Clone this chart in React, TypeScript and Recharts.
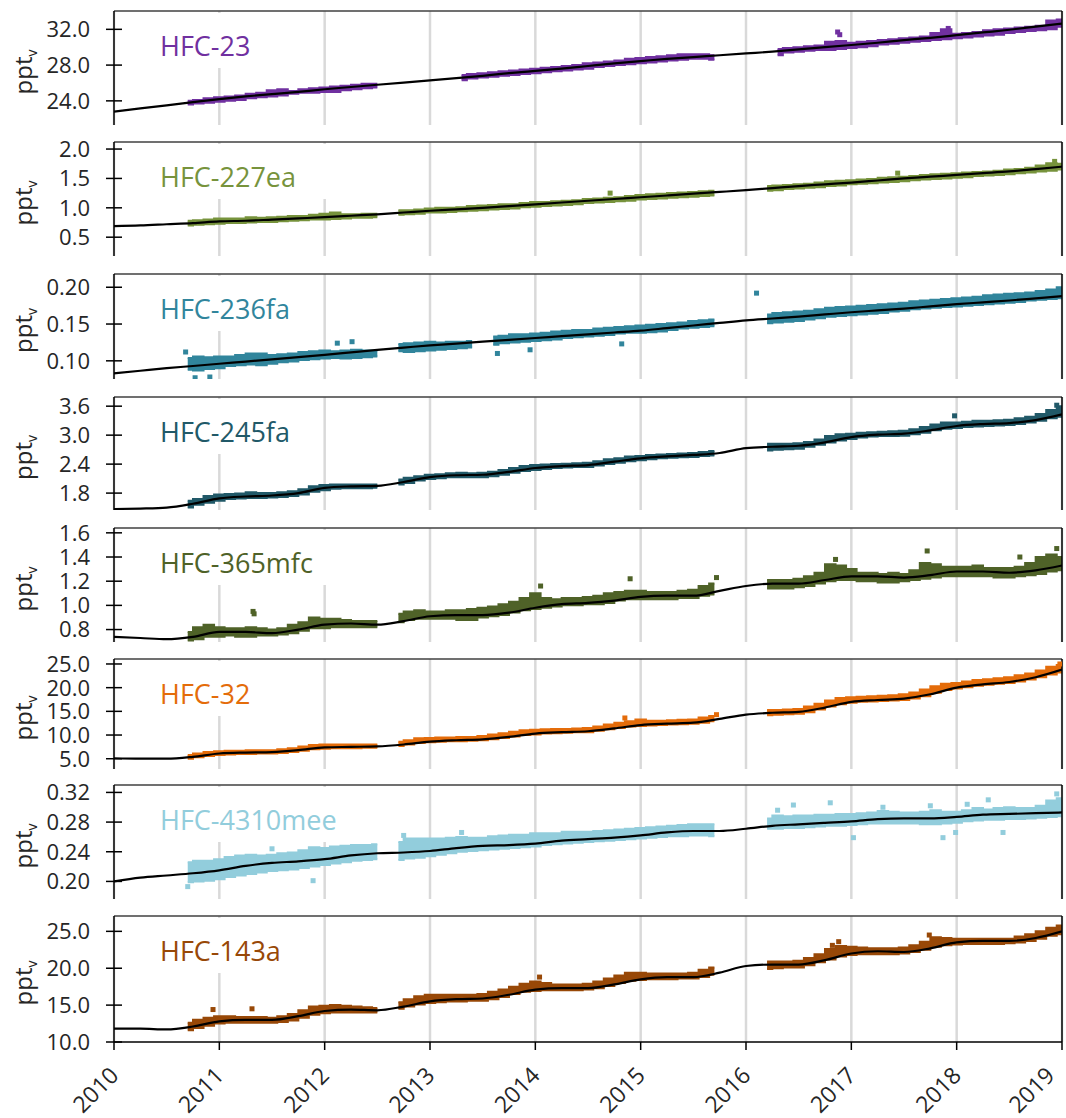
import React from "react";
import {
  Area,
  CartesianGrid,
  ComposedChart,
  Line,
  ReferenceLine,
  Scatter,
  XAxis,
  YAxis,
} from "recharts";

const FONT = '"Open Sans", sans-serif';

const yearTicks = [2010, 2011, 2012, 2013, 2014, 2015, 2016, 2017, 2018, 2019];

// observation bins, 0.1 yr wide
const binYears = [
  2010.7, 2010.8, 2010.9,
  2011.0, 2011.1, 2011.2, 2011.3, 2011.4, 2011.5, 2011.6, 2011.7, 2011.8, 2011.9,
  2012.0, 2012.1, 2012.2, 2012.3, 2012.4, 2012.5, 2012.6, 2012.7, 2012.8, 2012.9,
  2013.0, 2013.1, 2013.2, 2013.3, 2013.4, 2013.5, 2013.6, 2013.7, 2013.8, 2013.9,
  2014.0, 2014.1, 2014.2, 2014.3, 2014.4, 2014.5, 2014.6, 2014.7, 2014.8, 2014.9,
  2015.0, 2015.1, 2015.2, 2015.3, 2015.4, 2015.5, 2015.6, 2015.7, 2015.8, 2015.9,
  2016.0, 2016.1, 2016.2, 2016.3, 2016.4, 2016.5, 2016.6, 2016.7, 2016.8, 2016.9,
  2017.0, 2017.1, 2017.2, 2017.3, 2017.4, 2017.5, 2017.6, 2017.7, 2017.8, 2017.9,
  2018.0, 2018.1, 2018.2, 2018.3, 2018.4, 2018.5, 2018.6, 2018.7, 2018.8, 2018.9,
  2019.0,
];

// smoothed fit, every quarter year
const fitYears = [
  2010, 2010.25, 2010.5, 2010.75, 2011, 2011.25, 2011.5, 2011.75,
  2012, 2012.25, 2012.5, 2012.75, 2013, 2013.25, 2013.5, 2013.75,
  2014, 2014.25, 2014.5, 2014.75, 2015, 2015.25, 2015.5, 2015.75,
  2016, 2016.25, 2016.5, 2016.75, 2017, 2017.25, 2017.5, 2017.75,
  2018, 2018.25, 2018.5, 2018.75, 2019,
];

// ---- HFC-23
const hfc23Band = [
  [23.6, 24.0], [23.7, 24.1], [23.8, 24.3],
  [23.9, 24.4], [24.0, 24.5], [24.1, 24.6], [24.3, 24.8], [24.4, 24.9], [24.5, 25.2], [24.6, 25.3], [24.8, 25.1], [24.9, 25.3], [24.9, 25.4],
  [25.0, 25.5], [25.0, 25.6], [25.2, 25.7], [25.3, 25.8], [25.4, 25.9], [25.5, 25.9], null, null, null, null,
  null, null, null, [26.3, 26.9], [26.5, 27.0], [26.6, 27.1], [26.7, 27.2], [26.8, 27.3], [26.9, 27.4], [27.0, 27.5],
  [27.1, 27.6], [27.2, 27.7], [27.3, 27.8], [27.4, 27.9], [27.5, 28.0], [27.6, 28.2], [27.8, 28.3], [27.9, 28.4], [28.0, 28.5], [28.1, 28.7],
  [28.2, 28.8], [28.3, 28.9], [28.4, 29.0], [28.5, 29.1], [28.6, 29.2], [28.7, 29.2], [28.7, 29.2], [28.6, 29.1], null, null,
  null, null, null, [29.1, 29.8], [29.4, 29.9], [29.5, 30.0], [29.6, 30.1], [29.7, 30.2], [29.7, 30.6], [29.8, 30.7],
  [29.9, 30.5], [30.0, 30.6], [30.1, 30.7], [30.3, 30.8], [30.4, 30.9], [30.5, 31.0], [30.6, 31.1], [30.7, 31.2], [30.8, 31.6], [30.9, 32.0],
  [31.0, 31.5], [31.1, 31.6], [31.2, 31.7], [31.3, 31.9], [31.4, 32.0], [31.6, 32.1], [31.7, 32.2], [31.8, 32.3], [31.9, 32.4], [32.0, 33.0],
  [32.3, 33.1],
];
const hfc23Fit = [
  22.8, 23.15, 23.5, 23.85, 24.2, 24.5, 24.75, 25.0,
  25.3, 25.55, 25.8, 26.05, 26.3, 26.55, 26.8, 27.1,
  27.35, 27.6, 27.9, 28.2, 28.45, 28.7, 28.9, 29.1,
  29.3, 29.5, 29.75, 30.0, 30.25, 30.5, 30.8, 31.05,
  31.35, 31.65, 31.95, 32.3, 32.65,
];
const hfc23Out = [[2016.87, 31.7], [2016.89, 31.4], [2017.92, 32.1]];
const hfc23Ticks = [24, 28, 32];

// ---- HFC-227ea
const hfc227Band = [
  [0.70, 0.78], [0.71, 0.79], [0.72, 0.80],
  [0.73, 0.82], [0.74, 0.82], [0.74, 0.82], [0.75, 0.84], [0.76, 0.83], [0.76, 0.84], [0.77, 0.85], [0.78, 0.86], [0.79, 0.86], [0.80, 0.88],
  [0.80, 0.90], [0.81, 0.92], [0.82, 0.89], [0.83, 0.89], [0.83, 0.90], [0.84, 0.90], null, [0.88, 0.96], [0.89, 0.96], [0.90, 0.97],
  [0.92, 0.99], [0.92, 1.00], [0.93, 1.00], [0.94, 1.01], [0.95, 1.03], [0.96, 1.04], [0.97, 1.05], [0.98, 1.06], [0.99, 1.06], [1.01, 1.08],
  [1.02, 1.10], [1.03, 1.10], [1.04, 1.11], [1.05, 1.12], [1.06, 1.13], [1.08, 1.15], [1.09, 1.16], [1.10, 1.17], [1.11, 1.18], [1.12, 1.20],
  [1.14, 1.22], [1.15, 1.23], [1.16, 1.24], [1.17, 1.25], [1.18, 1.26], [1.19, 1.27], [1.20, 1.28], [1.21, 1.29], null, null,
  null, null, [1.29, 1.37], [1.30, 1.38], [1.32, 1.39], [1.33, 1.40], [1.34, 1.41], [1.35, 1.43], [1.37, 1.45], [1.38, 1.46],
  [1.40, 1.47], [1.41, 1.48], [1.42, 1.49], [1.43, 1.51], [1.44, 1.52], [1.45, 1.53], [1.47, 1.54], [1.48, 1.56], [1.49, 1.57], [1.50, 1.58],
  [1.51, 1.59], [1.52, 1.60], [1.54, 1.61], [1.55, 1.62], [1.56, 1.63], [1.57, 1.65], [1.59, 1.66], [1.60, 1.68], [1.62, 1.72], [1.63, 1.76],
  [1.65, 1.75],
];
const hfc227Fit = [
  0.69, 0.70, 0.72, 0.74, 0.77, 0.78, 0.80, 0.82,
  0.84, 0.865, 0.89, 0.92, 0.95, 0.975, 1.00, 1.03,
  1.06, 1.09, 1.12, 1.15, 1.18, 1.21, 1.24, 1.27,
  1.30, 1.335, 1.37, 1.40, 1.43, 1.465, 1.50, 1.53,
  1.56, 1.59, 1.62, 1.66, 1.70,
];
const hfc227Out = [[2014.71, 1.25], [2017.44, 1.59], [2018.93, 1.79]];
const hfc227Ticks = [0.5, 1.0, 1.5, 2.0];

// ---- HFC-236fa
const hfc236Band = [
  [0.088, 0.104], [0.087, 0.106], [0.089, 0.105],
  [0.090, 0.106], [0.093, 0.106], [0.094, 0.108], [0.095, 0.110], [0.094, 0.110], [0.096, 0.108], [0.098, 0.109], [0.099, 0.110], [0.101, 0.112], [0.102, 0.113],
  [0.103, 0.114], [0.104, 0.113], [0.103, 0.114], [0.104, 0.115], [0.105, 0.114], [0.106, 0.114], null, [0.113, 0.123], [0.112, 0.124], [0.113, 0.125],
  [0.114, 0.126], [0.115, 0.125], [0.116, 0.126], [0.117, 0.126], [0.118, 0.127], null, [0.122, 0.133], [0.124, 0.134], [0.125, 0.136], [0.126, 0.136],
  [0.127, 0.137], [0.128, 0.138], [0.129, 0.140], [0.131, 0.141], [0.132, 0.142], [0.133, 0.142], [0.134, 0.144], [0.135, 0.145], [0.137, 0.146], [0.138, 0.147],
  [0.138, 0.148], [0.139, 0.149], [0.140, 0.150], [0.142, 0.151], [0.144, 0.152], [0.145, 0.154], [0.146, 0.155], [0.147, 0.156], null, null,
  null, null, [0.151, 0.163], [0.152, 0.165], [0.153, 0.166], [0.154, 0.167], [0.156, 0.168], [0.158, 0.170], [0.160, 0.172], [0.161, 0.173],
  [0.162, 0.174], [0.163, 0.175], [0.164, 0.176], [0.165, 0.177], [0.167, 0.178], [0.168, 0.179], [0.170, 0.181], [0.171, 0.182], [0.172, 0.183], [0.173, 0.184],
  [0.174, 0.185], [0.175, 0.186], [0.176, 0.187], [0.177, 0.189], [0.178, 0.190], [0.179, 0.191], [0.180, 0.192], [0.182, 0.193], [0.183, 0.195], [0.184, 0.197],
  [0.185, 0.200],
];
const hfc236Fit = [
  0.083, 0.0865, 0.090, 0.093, 0.096, 0.099, 0.102, 0.105,
  0.108, 0.1115, 0.115, 0.118, 0.121, 0.1235, 0.126, 0.1285,
  0.131, 0.1335, 0.136, 0.1385, 0.141, 0.1445, 0.148, 0.1515,
  0.155, 0.1575, 0.160, 0.163, 0.166, 0.1685, 0.171, 0.174,
  0.177, 0.1795, 0.182, 0.185, 0.188,
];
const hfc236Out = [
  [2010.68, 0.112], [2010.77, 0.077], [2010.91, 0.078], [2012.12, 0.124], [2012.26, 0.126],
  [2013.64, 0.110], [2013.95, 0.115], [2014.82, 0.123], [2016.1, 0.192],
];
const hfc236Ticks = [0.10, 0.15, 0.20];

// ---- HFC-245fa
const hfc245Band = [
  [1.50, 1.64], [1.56, 1.68], [1.60, 1.74],
  [1.64, 1.77], [1.68, 1.78], [1.69, 1.79], [1.70, 1.82], [1.70, 1.80], [1.71, 1.80], [1.72, 1.82], [1.74, 1.84], [1.77, 1.88], [1.83, 1.94],
  [1.86, 1.97], [1.89, 1.98], [1.90, 1.98], [1.90, 1.98], [1.90, 1.98], [1.91, 1.98], null, [1.98, 2.08], [2.01, 2.12], [2.06, 2.15],
  [2.09, 2.18], [2.11, 2.19], [2.13, 2.21], [2.13, 2.22], [2.13, 2.21], [2.13, 2.22], [2.15, 2.24], [2.18, 2.28], [2.22, 2.32], [2.26, 2.36],
  [2.28, 2.38], [2.30, 2.39], [2.32, 2.40], [2.33, 2.41], [2.34, 2.42], [2.34, 2.43], [2.37, 2.46], [2.40, 2.50], [2.43, 2.52], [2.46, 2.56],
  [2.48, 2.57], [2.50, 2.59], [2.52, 2.60], [2.53, 2.61], [2.54, 2.62], [2.55, 2.63], [2.57, 2.65], [2.58, 2.67], null, null,
  null, null, [2.68, 2.82], [2.70, 2.82], [2.71, 2.82], [2.72, 2.83], [2.76, 2.86], [2.80, 2.91], [2.85, 2.98], [2.89, 3.02],
  [2.92, 3.03], [2.95, 3.05], [2.97, 3.06], [2.98, 3.07], [2.98, 3.08], [2.99, 3.09], [3.02, 3.12], [3.05, 3.17], [3.10, 3.22], [3.13, 3.26],
  [3.15, 3.26], [3.17, 3.28], [3.18, 3.30], [3.19, 3.30], [3.20, 3.31], [3.21, 3.32], [3.23, 3.35], [3.26, 3.38], [3.30, 3.44], [3.35, 3.52],
  [3.38, 3.60],
];
const hfc245Fit = [
  1.47, 1.48, 1.50, 1.58, 1.69, 1.73, 1.75, 1.80,
  1.91, 1.94, 1.95, 2.03, 2.13, 2.17, 2.18, 2.24,
  2.32, 2.36, 2.38, 2.45, 2.52, 2.56, 2.59, 2.63,
  2.73, 2.76, 2.78, 2.85, 2.96, 3.01, 3.03, 3.10,
  3.19, 3.23, 3.25, 3.31, 3.43,
];
const hfc245Out = [[2017.98, 3.40], [2018.95, 3.62]];
const hfc245Ticks = [1.8, 2.4, 3.0, 3.6];

// ---- HFC-365mfc
const hfc365Band = [
  [0.71, 0.78], [0.72, 0.82], [0.74, 0.84],
  [0.74, 0.82], [0.75, 0.81], [0.74, 0.81], [0.74, 0.82], [0.75, 0.81], [0.75, 0.80], [0.76, 0.81], [0.77, 0.84], [0.79, 0.86], [0.81, 0.90],
  [0.81, 0.89], [0.82, 0.89], [0.82, 0.88], [0.82, 0.87], [0.82, 0.87], [0.82, 0.87], null, [0.86, 0.93], [0.88, 0.95], [0.89, 0.96],
  [0.89, 0.95], [0.89, 0.95], [0.89, 0.96], [0.88, 0.96], [0.88, 0.97], [0.90, 0.98], [0.91, 0.99], [0.92, 1.01], [0.94, 1.03], [0.96, 1.06],
  [0.97, 1.10], [0.98, 1.06], [0.99, 1.05], [1.00, 1.06], [1.00, 1.06], [1.01, 1.07], [1.01, 1.08], [1.02, 1.10], [1.04, 1.11], [1.05, 1.12],
  [1.05, 1.12], [1.05, 1.11], [1.05, 1.11], [1.05, 1.11], [1.06, 1.12], [1.06, 1.13], [1.08, 1.16], [1.09, 1.18], null, null,
  null, null, [1.14, 1.21], [1.14, 1.21], [1.14, 1.21], [1.15, 1.22], [1.16, 1.24], [1.18, 1.27], [1.20, 1.34], [1.21, 1.33],
  [1.21, 1.30], [1.20, 1.27], [1.20, 1.27], [1.19, 1.26], [1.19, 1.27], [1.20, 1.26], [1.21, 1.29], [1.22, 1.35], [1.23, 1.34], [1.24, 1.32],
  [1.24, 1.32], [1.24, 1.32], [1.24, 1.33], [1.24, 1.31], [1.23, 1.31], [1.23, 1.31], [1.24, 1.32], [1.25, 1.35], [1.26, 1.40], [1.28, 1.42],
  [1.29, 1.40],
];
const hfc365Fit = [
  0.74, 0.73, 0.72, 0.74, 0.78, 0.78, 0.77, 0.80,
  0.84, 0.85, 0.84, 0.87, 0.91, 0.92, 0.92, 0.94,
  0.98, 1.01, 1.02, 1.04, 1.07, 1.08, 1.08, 1.12,
  1.16, 1.18, 1.18, 1.21, 1.24, 1.24, 1.23, 1.25,
  1.28, 1.28, 1.27, 1.29, 1.33,
];
const hfc365Out = [
  [2011.32, 0.95], [2011.33, 0.93], [2014.05, 1.16], [2014.9, 1.22], [2015.72, 1.23],
  [2016.85, 1.38], [2017.72, 1.45], [2018.6, 1.40], [2018.95, 1.47],
];
const hfc365Ticks = [0.8, 1.0, 1.2, 1.4, 1.6];

// ---- HFC-32
const hfc32Band = [
  [5.0, 5.8], [5.3, 6.1], [5.6, 6.4],
  [5.8, 6.6], [5.9, 6.7], [6.0, 6.7], [6.0, 6.8], [6.1, 6.8], [6.1, 6.8], [6.2, 7.0], [6.4, 7.2], [6.7, 7.6], [7.0, 7.9],
  [7.1, 8.0], [7.2, 8.0], [7.2, 8.0], [7.2, 8.0], [7.3, 8.0], [7.3, 8.0], null, [7.7, 8.6], [8.0, 8.9], [8.3, 9.3],
  [8.5, 9.4], [8.6, 9.5], [8.7, 9.5], [8.7, 9.6], [8.8, 9.6], [8.9, 9.8], [9.1, 10.1], [9.4, 10.4], [9.7, 10.7], [10.0, 11.0],
  [10.1, 11.1], [10.3, 11.2], [10.4, 11.3], [10.5, 11.3], [10.6, 11.4], [10.6, 11.5], [10.9, 11.8], [11.2, 12.2], [11.5, 12.6], [11.8, 12.9],
  [11.9, 13.3], [12.0, 13.0], [12.1, 13.0], [12.2, 13.1], [12.3, 13.2], [12.4, 13.3], [12.6, 13.7], [12.9, 14.0], null, null,
  null, null, [14.2, 15.3], [14.3, 15.3], [14.4, 15.4], [14.5, 15.5], [14.8, 16.0], [15.4, 16.6], [16.0, 17.3], [16.5, 17.8],
  [16.8, 18.0], [17.0, 18.1], [17.1, 18.2], [17.2, 18.3], [17.3, 18.4], [17.4, 18.6], [17.7, 19.0], [18.2, 19.6], [18.9, 20.3], [19.5, 20.8],
  [19.8, 21.0], [20.1, 21.3], [20.4, 21.6], [20.6, 21.8], [20.8, 22.0], [21.0, 22.2], [21.3, 22.6], [21.7, 23.0], [22.2, 23.6], [22.8, 24.4],
  [23.2, 24.8],
];
const hfc32Fit = [
  5.1, 5.0, 5.0, 5.4, 6.1, 6.3, 6.4, 6.8,
  7.4, 7.5, 7.6, 8.0, 8.6, 8.9, 9.1, 9.6,
  10.3, 10.6, 10.8, 11.4, 12.1, 12.4, 12.6, 13.4,
  14.3, 14.7, 14.9, 15.8, 17.0, 17.4, 17.7, 18.6,
  20.0, 20.7, 21.2, 22.2, 23.8,
];
const hfc32Out = [[2014.85, 13.6], [2015.72, 14.3], [2018.98, 25.0]];
const hfc32Ticks = [5, 10, 15, 20, 25];

// ---- HFC-4310mee
const hfc4310Band = [
  [0.199, 0.226], [0.200, 0.228], [0.201, 0.228],
  [0.203, 0.230], [0.206, 0.233], [0.208, 0.235], [0.210, 0.236], [0.212, 0.235], [0.214, 0.236], [0.215, 0.238], [0.216, 0.239], [0.218, 0.242], [0.220, 0.246],
  [0.222, 0.245], [0.224, 0.247], [0.226, 0.248], [0.228, 0.249], [0.229, 0.249], [0.230, 0.250], null, [0.229, 0.253], [0.231, 0.258], [0.232, 0.258],
  [0.234, 0.258], [0.236, 0.258], [0.238, 0.259], [0.240, 0.260], [0.241, 0.259], [0.242, 0.259], [0.243, 0.261], [0.244, 0.262], [0.245, 0.263], [0.246, 0.263],
  [0.247, 0.265], [0.249, 0.265], [0.250, 0.265], [0.251, 0.267], [0.252, 0.267], [0.253, 0.267], [0.254, 0.268], [0.255, 0.269], [0.256, 0.270], [0.257, 0.271],
  [0.258, 0.272], [0.259, 0.273], [0.260, 0.274], [0.261, 0.275], [0.261, 0.276], [0.262, 0.277], [0.262, 0.277], [0.261, 0.277], null, null,
  null, null, [0.271, 0.285], [0.271, 0.289], [0.272, 0.288], [0.272, 0.289], [0.273, 0.289], [0.274, 0.290], [0.275, 0.290], [0.275, 0.291],
  [0.276, 0.291], [0.277, 0.292], [0.278, 0.293], [0.278, 0.295], [0.278, 0.294], [0.278, 0.293], [0.278, 0.293], [0.277, 0.294], [0.277, 0.296], [0.278, 0.294],
  [0.279, 0.294], [0.281, 0.296], [0.282, 0.299], [0.283, 0.297], [0.283, 0.299], [0.284, 0.300], [0.284, 0.299], [0.285, 0.299], [0.286, 0.302], [0.287, 0.309],
  [0.288, 0.312],
];
const hfc4310Fit = [
  0.200, 0.205, 0.208, 0.211, 0.215, 0.221, 0.225, 0.227,
  0.230, 0.235, 0.238, 0.239, 0.241, 0.245, 0.248, 0.249,
  0.251, 0.255, 0.257, 0.259, 0.262, 0.266, 0.268, 0.268,
  0.271, 0.275, 0.277, 0.279, 0.281, 0.284, 0.285, 0.285,
  0.287, 0.290, 0.291, 0.292, 0.293,
];
const hfc4310Out = [
  [2010.7, 0.193], [2011.5, 0.244], [2011.89, 0.201], [2012.75, 0.262], [2013.3, 0.266],
  [2016.3, 0.296], [2016.45, 0.303], [2016.8, 0.306], [2017.02, 0.259], [2017.3, 0.300],
  [2017.75, 0.302], [2017.87, 0.259], [2017.99, 0.266], [2018.1, 0.304], [2018.3, 0.31],
  [2018.44, 0.266], [2018.95, 0.318],
];
const hfc4310Ticks = [0.20, 0.24, 0.28, 0.32];

// ---- HFC-143a
const hfc143Band = [
  [11.6, 12.6], [11.9, 13.0], [12.2, 13.3],
  [12.5, 13.5], [12.6, 13.5], [12.6, 13.4], [12.6, 13.4], [12.6, 13.4], [12.6, 13.3], [12.7, 13.5], [12.9, 13.8], [13.3, 14.3], [13.7, 14.8],
  [13.9, 14.9], [14.0, 15.0], [14.0, 14.9], [14.0, 14.8], [14.0, 14.7], [14.0, 14.6], null, [14.5, 15.4], [14.8, 15.8], [15.1, 16.2],
  [15.3, 16.4], [15.4, 16.4], [15.5, 16.4], [15.5, 16.4], [15.6, 16.4], [15.6, 16.5], [15.8, 16.8], [16.1, 17.1], [16.5, 17.5], [16.8, 17.9],
  [16.9, 18.2], [17.0, 18.0], [17.0, 17.8], [17.0, 17.8], [17.0, 17.8], [17.1, 17.9], [17.3, 18.2], [17.6, 18.6], [18.0, 19.0], [18.3, 19.4],
  [18.4, 19.4], [18.5, 19.3], [18.5, 19.3], [18.5, 19.3], [18.6, 19.3], [18.6, 19.4], [18.8, 19.8], [19.1, 20.1], null, null,
  null, null, [19.9, 20.9], [20.0, 20.9], [20.1, 20.9], [20.1, 21.0], [20.4, 21.4], [20.8, 21.9], [21.2, 22.6], [21.6, 23.0],
  [21.8, 22.9], [21.9, 22.8], [21.9, 22.7], [21.9, 22.7], [21.9, 22.7], [22.0, 22.8], [22.2, 23.1], [22.5, 23.6], [22.9, 24.2], [23.1, 24.1],
  [23.2, 24.0], [23.3, 24.0], [23.3, 24.0], [23.3, 24.0], [23.3, 24.0], [23.4, 24.0], [23.5, 24.3], [23.7, 24.6], [24.0, 25.0], [24.4, 25.5],
  [24.6, 25.8],
];
const hfc143Fit = [
  11.8, 11.8, 11.7, 12.1, 12.8, 13.0, 13.0, 13.5,
  14.2, 14.4, 14.3, 14.8, 15.5, 15.8, 15.9, 16.4,
  17.1, 17.3, 17.3, 17.8, 18.5, 18.8, 18.8, 19.4,
  20.3, 20.5, 20.5, 21.1, 22.0, 22.3, 22.2, 22.7,
  23.5, 23.7, 23.7, 24.1, 25.0,
];
const hfc143Out = [
  [2010.94, 14.4], [2011.31, 14.5], [2014.04, 18.8], [2016.82, 23.1], [2016.88, 23.6], [2017.74, 24.5],
];
const hfc143Ticks = [10, 15, 20, 25];

const PANELS = [
  { name: "HFC-23", color: "#7030a0", band: hfc23Band, fit: hfc23Fit, out: hfc23Out, ticks: hfc23Ticks, domain: [21.3, 34.05], digits: 1 },
  { name: "HFC-227ea", color: "#77933c", band: hfc227Band, fit: hfc227Fit, out: hfc227Out, ticks: hfc227Ticks, domain: [0.18, 2.12], digits: 1 },
  { name: "HFC-236fa", color: "#31859c", band: hfc236Band, fit: hfc236Fit, out: hfc236Out, ticks: hfc236Ticks, domain: [0.0753, 0.218], digits: 2 },
  { name: "HFC-245fa", color: "#215968", band: hfc245Band, fit: hfc245Fit, out: hfc245Out, ticks: hfc245Ticks, domain: [1.45, 3.79], digits: 1 },
  { name: "HFC-365mfc", color: "#4f6228", band: hfc365Band, fit: hfc365Fit, out: hfc365Out, ticks: hfc365Ticks, domain: [0.697, 1.64], digits: 1 },
  { name: "HFC-32", color: "#e46c0a", band: hfc32Band, fit: hfc32Fit, out: hfc32Out, ticks: hfc32Ticks, domain: [2.83, 26.05], digits: 1 },
  { name: "HFC-4310mee", color: "#92cddc", band: hfc4310Band, fit: hfc4310Fit, out: hfc4310Out, ticks: hfc4310Ticks, domain: [0.1763, 0.330], digits: 2 },
  { name: "HFC-143a", color: "#984807", band: hfc143Band, fit: hfc143Fit, out: hfc143Out, ticks: hfc143Ticks, domain: [10, 27.08], digits: 1 },
];

// panel plot boxes on the page
const LAYOUT = [
  { top: 11, h: 114 },
  { top: 142, h: 114 },
  { top: 274, h: 105 },
  { top: 397, h: 113 },
  { top: 528, h: 114 },
  { top: 659, h: 110 },
  { top: 785, h: 114 },
  { top: 916, h: 126 },
];

const PAD = 14;
const X_AXIS_H = 90;

function YTick(props: any) {
  const { x, y, payload, digits } = props;
  return (
    <g>
      <line x1={x + 16} x2={x + 32} y1={y} y2={y} stroke="#000" strokeWidth={1.5} />
      <text x={x} y={y} dy="0.36em" textAnchor="end" fontFamily={FONT} fontSize={22} fill="#262626">
        {Number(payload.value).toFixed(digits)}
      </text>
    </g>
  );
}

function XTick(props: any) {
  const { x, y, payload } = props;
  const ax = x + 6;
  return (
    <text x={ax} y={y} textAnchor="end" transform={`rotate(-45 ${ax} ${y})`} fontFamily={FONT} fontSize={23} fill="#262626">
      {payload.value}
    </text>
  );
}

function PptLabel(props: any) {
  const vb = props.viewBox || { x: 0, y: 0, height: 0 };
  const cx = 32;
  const cy = vb.y + vb.height / 2 + 4;
  return (
    <text x={cx} y={cy} textAnchor="middle" transform={`rotate(-90 ${cx} ${cy})`} fontFamily={FONT} fontSize={24} fill="#262626">
      ppt
      <tspan dy={5} fontSize={14}>v</tspan>
    </text>
  );
}

function Square(props: any) {
  const { cx, cy, fill } = props;
  if (cx == null || cy == null) return null;
  return <rect x={cx - 2.5} y={cy - 2.5} width={5} height={5} fill={fill} />;
}

function Panel({ p, top, h, last }: any) {
  const rows = binYears.map((t, i) => ({ t, band: p.band[i] }));
  const fitRows = fitYears.map((t, i) => ({ t, fit: p.fit[i] }));
  const outRows = p.out.map(([t, v]: number[]) => ({ t, v }));
  const height = PAD + h + (last ? X_AXIS_H : PAD);
  return (
    <div style={{ position: "absolute", left: 0, top: top - PAD, width: 1066, height }}>
      <ComposedChart
        width={1066}
        height={height}
        data={rows}
        margin={{ top: PAD, right: 4, bottom: last ? 0 : PAD, left: 0 }}
      >
        <CartesianGrid horizontal={false} stroke="#d9d9d9" strokeWidth={2.5} />
        <XAxis
          dataKey="t"
          type="number"
          domain={[2010, 2019]}
          ticks={yearTicks}
          allowDataOverflow
          hide={!last}
          height={last ? X_AXIS_H : 0}
          tickSize={8}
          tickMargin={27}
          tick={<XTick />}
          axisLine={{ stroke: "#000", strokeWidth: 1.5 }}
          tickLine={{ stroke: "#000", strokeWidth: 1.5 }}
        />
        <YAxis
          type="number"
          domain={p.domain}
          ticks={p.ticks}
          allowDataOverflow
          width={114}
          tickSize={8}
          tickMargin={16}
          tickLine={false}
          axisLine={{ stroke: "#000", strokeWidth: 1.5 }}
          tick={<YTick digits={p.digits} />}
          label={<PptLabel />}
        />
        <ReferenceLine y={p.domain[1]} stroke="#404040" strokeWidth={1.5} />
        <ReferenceLine x={2019} stroke="#000" strokeWidth={1.5} />
        <Area
          dataKey="band"
          type="step"
          stroke={p.color}
          strokeWidth={2}
          fill={p.color}
          fillOpacity={1}
          connectNulls={false}
          dot={false}
          activeDot={false}
          isAnimationActive={false}
        />
        <Scatter data={outRows} dataKey="v" fill={p.color} shape={<Square />} isAnimationActive={false} />
        <Line
          data={fitRows}
          dataKey="fit"
          type="monotone"
          stroke="#000"
          strokeWidth={2.2}
          dot={false}
          activeDot={false}
          isAnimationActive={false}
        />
      </ComposedChart>
      <div
        style={{
          position: "absolute",
          left: 130,
          top: PAD + 2,
          height: 45,
          paddingTop: 10,
          paddingLeft: 30,
          paddingRight: 30,
          background: "#fff",
          fontFamily: FONT,
          fontSize: 27,
          lineHeight: "45px",
          color: p.color,
          whiteSpace: "nowrap",
        }}
      >
        {p.name}
      </div>
    </div>
  );
}

export default function App() {
  return (
    <div
      style={{
        position: "absolute",
        left: 0,
        top: 0,
        width: 1066,
        height: 1118,
        overflow: "hidden",
        background: "#fff",
      }}
    >
      {PANELS.map((p, i) => (
        <Panel key={p.name} p={p} top={LAYOUT[i].top} h={LAYOUT[i].h} last={i === PANELS.length - 1} />
      ))}
    </div>
  );
}
